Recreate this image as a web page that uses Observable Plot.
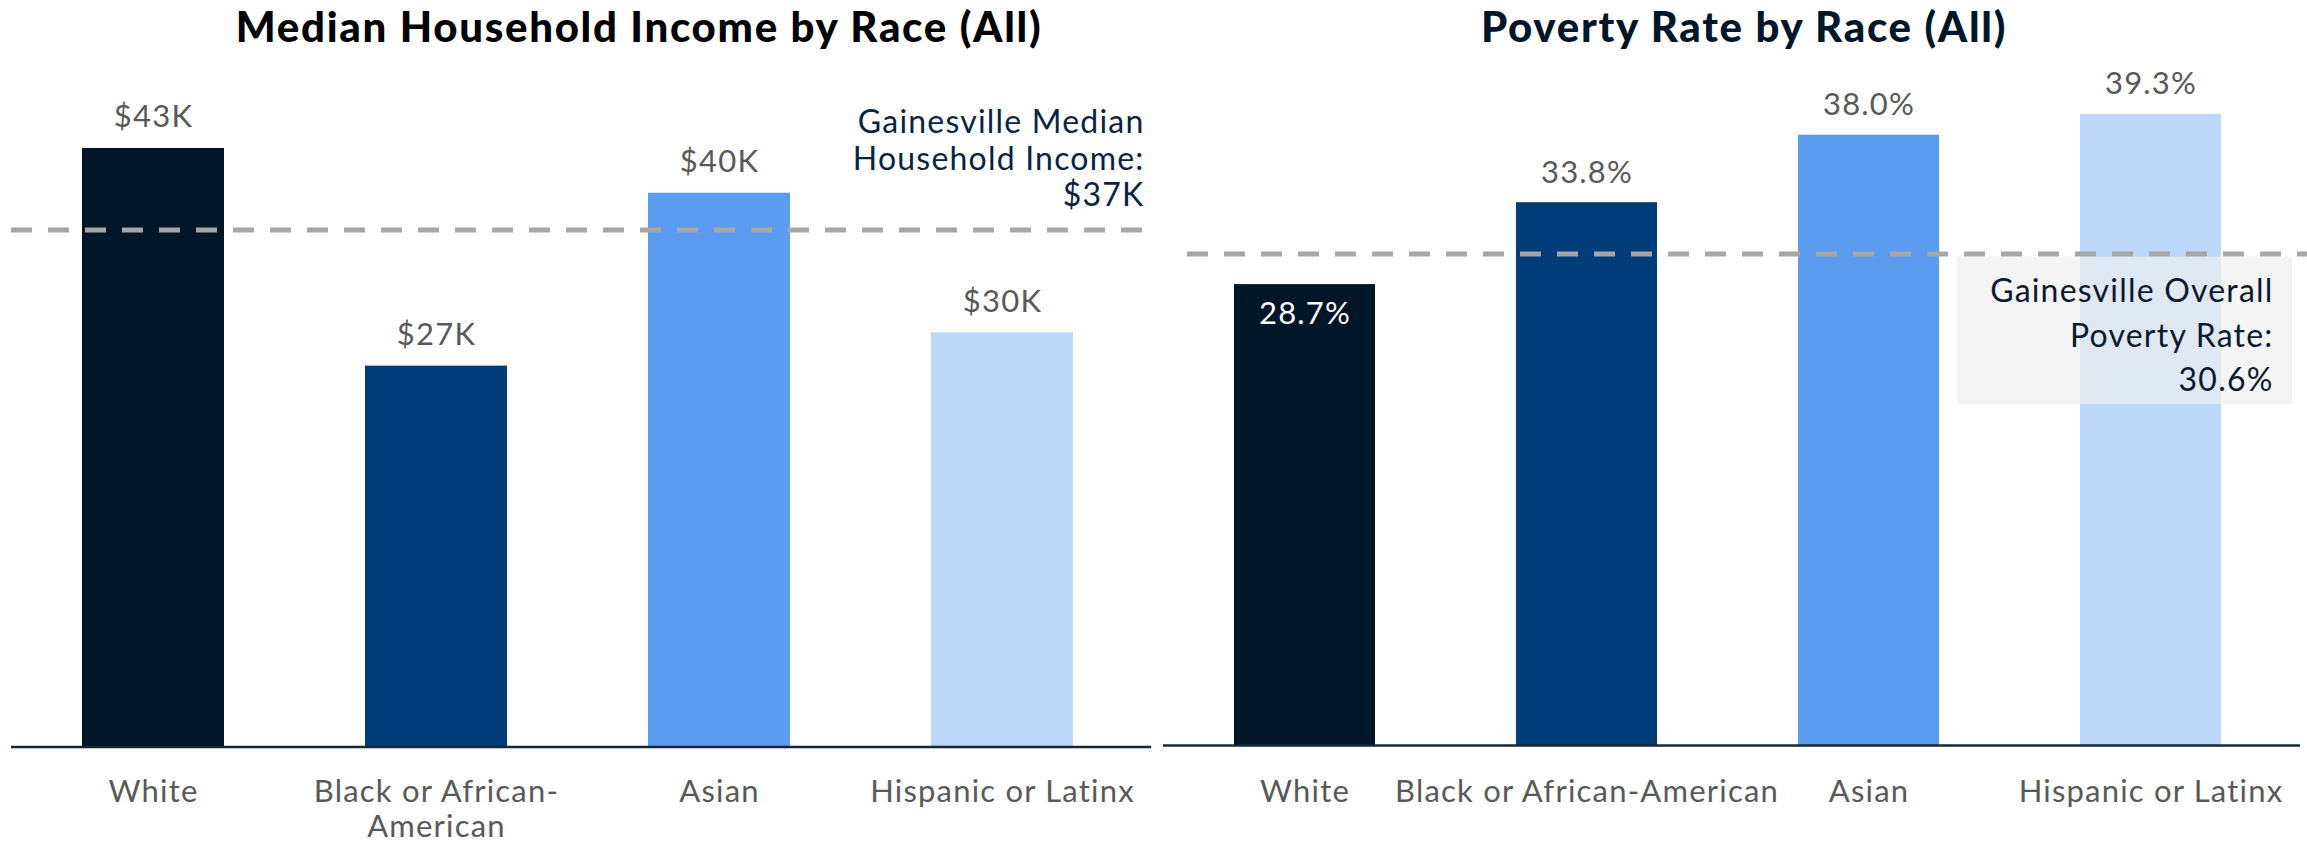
<!DOCTYPE html>
<html><head><meta charset="utf-8">
<script src="https://cdn.jsdelivr.net/npm/d3@7"></script>
<script src="https://cdn.jsdelivr.net/npm/@observablehq/plot@0.6"></script>
<style>
body{margin:0;background:#fff;}
#wrap{position:relative;width:2307px;height:844px;overflow:hidden;background:#fff;font-family:Lato,"Open Sans",sans-serif;}
.title{position:absolute;top:5px;font-size:42px;font-weight:900;text-align:center;line-height:1;white-space:nowrap;letter-spacing:1.7px;}
.chart{position:absolute;top:60px;}
</style></head><body>
<div id="wrap">
 <div class="title" style="left:0;width:1278px;color:#000">Median Household Income by Race (All)</div>
 <div class="title" style="left:1181px;width:1126px;color:#021629">Poverty Rate by Race (All)</div>
 <div id="left" class="chart" style="left:0"></div>
 <div id="right" class="chart" style="left:1155px"></div>
</div>
<script>
const races = ["White", "Black or African-American", "Asian", "Hispanic or Latinx"];
const incomeTickLabels = ["White", "Black or African-\nAmerican", "Asian", "Hispanic or Latinx"];
const incomeK = [43.06, 27.4, 39.84, 29.8];
const medianIncomeK = 37.2;
const povertyPct = [28.7, 33.8, 38.0, 39.3];
const overallPovertyPct = 30.6;
const barColors = ["#021629", "#003d7a", "#5b9bf0", "#bdd7fa"];

const income = races.map((r, i) => ({race: r, value: incomeK[i]}));
const poverty = races.map((r, i) => ({race: r, value: povertyPct[i]}));

const font = "Lato, 'Open Sans', sans-serif";
const svgStyle = {fontFamily: font, background: "none", overflow: "visible", letterSpacing: "1.2px"};

const left = Plot.plot({
  width: 1155, height: 784,
  marginLeft: 11, marginRight: 4, marginTop: 19.3, marginBottom: 97.5,
  style: svgStyle,
  x: {domain: races, range: [82, 1073], paddingInner: 0.5, paddingOuter: 0, label: null},
  y: {domain: [0, 48], axis: null},
  color: {domain: races, range: barColors},
  marks: [
    Plot.barY(income, {x: "race", y: "value", fill: "race"}),
    Plot.ruleY([medianIncomeK], {stroke: "#a6a6a6", strokeWidth: 5, strokeDasharray: "21,16"}),
    Plot.ruleY([0], {stroke: "#14263c", strokeWidth: 2.5}),
    Plot.text(income, {x: "race", y: "value", text: d => `$${Math.round(d.value)}K`,
      lineAnchor: "bottom", dy: -21, fontSize: 31, fill: "#595959"}),
    Plot.text([medianIncomeK], {y: d => d, frameAnchor: "right", textAnchor: "end",
      text: d => `Gainesville Median\nHousehold Income:\n$${Math.round(d)}K`,
      lineAnchor: "bottom", dy: -23.5, dx: -7, lineHeight: 1.14, fontSize: 32, fill: "#0c2340"}),
    Plot.axisX({tickSize: 0, tickPadding: 29, fontSize: 31, color: "#595959", lineHeight: 1.16,
      tickFormat: d => incomeTickLabels[races.indexOf(d)], label: null})
  ]
});
document.getElementById("left").appendChild(left);

const right = Plot.plot({
  width: 1152, height: 784,
  marginLeft: 8, marginRight: 7, marginTop: 10.5, marginBottom: 99,
  style: svgStyle,
  x: {domain: races, range: [78, 1067], paddingInner: 0.5, paddingOuter: 0, label: null},
  y: {domain: [0, 42], axis: null},
  color: {domain: races, range: barColors},
  marks: [
    Plot.barY(poverty, {x: "race", y: "value", fill: "race"}),
    Plot.ruleY([overallPovertyPct], {stroke: "#a6a6a6", strokeWidth: 5, strokeDasharray: "21,16", insetLeft: 24, insetRight: -7}),
    Plot.rect([overallPovertyPct], {y1: d => d, y2: 0, insetTop: 3, insetBottom: 341, insetLeft: 794, insetRight: 8,
      fill: "#efefef", fillOpacity: 0.7}),
    Plot.ruleY([0], {stroke: "#14263c", strokeWidth: 2.5}),
    Plot.text(poverty.slice(1), {x: "race", y: "value", text: d => d.value.toFixed(1) + "%",
      lineAnchor: "bottom", dy: -20, fontSize: 31, fill: "#595959"}),
    Plot.text(poverty.slice(0, 1), {x: "race", y: "value", text: d => d.value.toFixed(1) + "%",
      lineAnchor: "bottom", dy: 39, fontSize: 31, fill: "#ffffff"}),
    Plot.text([overallPovertyPct], {y: d => d, frameAnchor: "right", textAnchor: "end",
      text: d => `Gainesville Overall\nPoverty Rate:\n${d.toFixed(1)}%`,
      lineAnchor: "top", dy: 16.4, dx: -27, lineHeight: 1.39, fontSize: 32, fill: "#0a1a30"}),
    Plot.axisX({tickSize: 0, tickPadding: 34, fontSize: 31, color: "#595959", label: null})
  ]
});
document.getElementById("right").appendChild(right);
</script>
</body></html>
